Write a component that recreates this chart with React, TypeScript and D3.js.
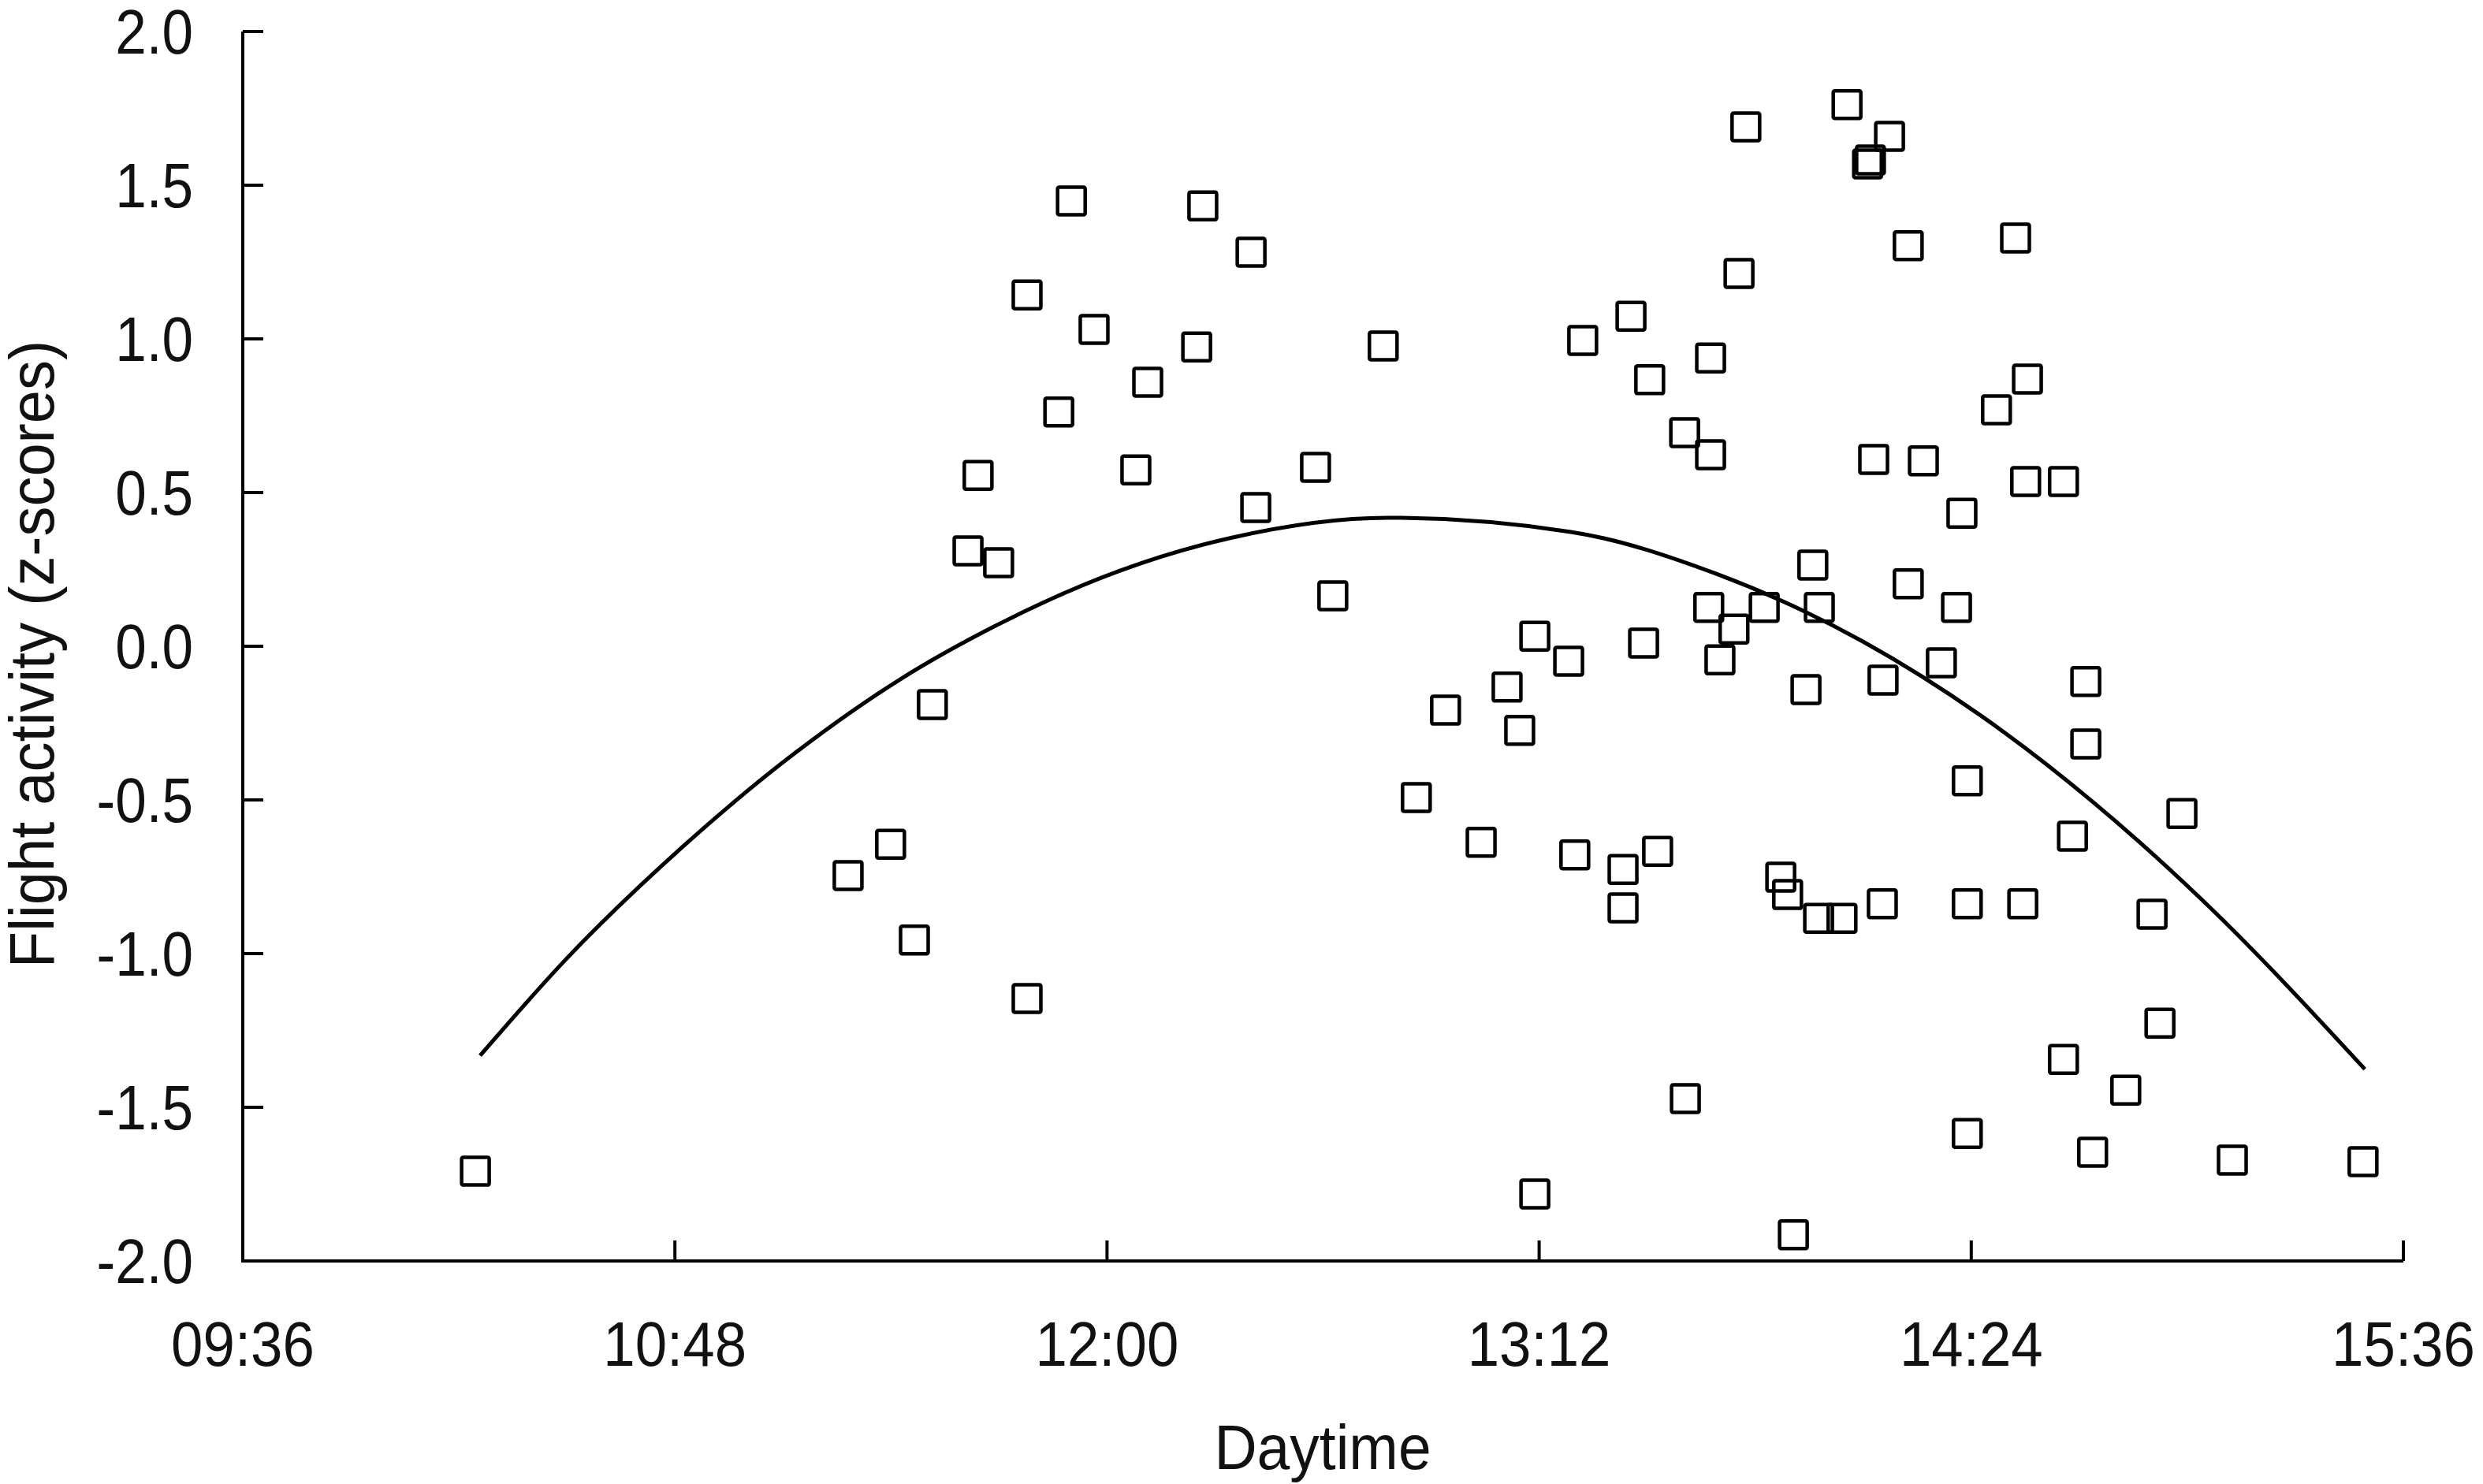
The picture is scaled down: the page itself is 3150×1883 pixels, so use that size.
import React from "react";
import * as d3 from "d3";

// scatter: time of day (decimal hours) and flight activity (z-scores)
const hours = [
  10.246, 11.281, 11.399, 11.465, 11.515, 11.614, 11.642, 11.699, 11.778, 11.778,
  11.866, 11.901, 11.964, 12.08, 12.113, 12.249, 12.266, 12.4, 12.413, 12.579,
  12.627, 12.767, 12.859, 12.94, 13.039, 13.111, 13.146, 13.188, 13.188, 13.282,
  13.299, 13.321, 13.433, 13.433, 13.455, 13.49, 13.507, 13.529, 13.604, 13.606,
  13.676, 13.676, 13.671, 13.702, 13.741, 13.755, 13.774, 13.825, 13.871, 13.89,
  13.906, 13.941, 13.96, 13.978, 13.976, 14.041, 14.055, 14.112, 14.12, 14.129,
  14.155, 14.153, 14.173, 14.225, 14.225, 14.267, 14.317, 14.359, 14.374, 14.389,
  14.389, 14.389, 14.47, 14.523, 14.543, 14.556, 14.551, 14.656, 14.656, 14.681,
  14.718, 14.718, 14.737, 14.829, 14.902, 14.924, 14.985, 15.125, 15.488,
];
const scores = [
  -1.708, -0.746, -0.644, -0.956, -0.19, 0.31, 0.556, 0.272, 1.143, -1.146,
  0.762, 1.449, 1.031, 0.574, 0.859, 0.974, 1.433, 1.282, 0.451, 0.582,
  0.164, 0.977, -0.492, -0.208, -0.638, -0.133, -0.274, 0.033, -1.782, -0.049,
  -0.679, 0.995, -0.726, -0.851, 1.074, 0.01, 0.867, -0.667, 0.695, -1.472,
  0.938, 0.623, 0.126, -0.044, 0.056, 1.213, 1.69, 0.126, -0.751, -0.808,
  -1.915, -0.141, 0.264, 0.126, -0.885, -0.885, 1.762, 1.569, 1.582, 0.608,
  -0.11, -0.838, 1.659, 1.303, 0.203, 0.603, -0.054, 0.126, 0.433, -0.438,
  -0.838, -1.585, 0.769, 1.328, -0.838, 0.869, 0.536, 0.536, -1.344, -0.618,
  -0.115, -0.318, -1.646, -1.444, -0.872, -1.226, -0.544, -1.672, -1.677,
];

// fitted curve
const curveHours = [
  10.259, 10.493, 10.821, 11.134, 11.421, 11.686, 12.036, 12.349,
  12.778, 13.288, 13.691, 14.098, 14.427, 14.865, 15.055, 15.493,
];
const curveScores = [
  -1.332, -1.024, -0.653, -0.347, -0.111, 0.064, 0.246, 0.354,
  0.418, 0.372, 0.236, 0.016, -0.226, -0.635, -0.841, -1.376,
];

const xTickLabels = ["09:36", "10:48", "12:00", "13:12", "14:24", "15:36"];
const yTickValues = [-2, -1.5, -1, -0.5, 0, 0.5, 1, 1.5, 2];

const W = 3150;
const H = 1883;
const font = "'Liberation Sans', Arial, sans-serif";

const toHours = (s: string) => {
  const [h, m] = s.split(":").map(Number);
  return h + m / 60;
};

export default function App() {
  const x = d3.scaleLinear().domain([9.6, 15.6]).range([308, 3049]);
  const y = d3.scaleLinear().domain([-2, 2]).range([1600, 40]);
  const fmt = (v: number) => v.toFixed(1);
  const tick = 26;
  const box = 35;

  const line = d3
    .line<number>()
    .x((_, i) => x(curveHours[i]))
    .y((d) => y(d))
    .curve(d3.curveMonotoneX);

  return (
    <svg
      width={W}
      height={H}
      viewBox={`0 0 ${W} ${H}`}
      style={{ position: "absolute", left: 0, top: 0, background: "white" }}
      fontFamily={font}
    >
      <rect width={W} height={H} fill="white" />

      {/* axes */}
      <path
        d={`M${x(9.6)},${y(2)}V${y(-2)}H${x(15.6)}`}
        fill="none"
        stroke="#000"
        strokeWidth={4}
      />
      {yTickValues.map((v) => (
        <g key={v}>
          <line x1={x(9.6)} x2={x(9.6) + tick} y1={y(v)} y2={y(v)} stroke="#000" strokeWidth={4} />
          <g transform={`translate(245,${y(v) + 28}) scale(0.9,1)`}>
            <text textAnchor="end" fontSize={79} fill="#111">
              {fmt(v)}
            </text>
          </g>
        </g>
      ))}
      {xTickLabels.map((t) => (
        <g key={t}>
          <line
            x1={x(toHours(t))}
            x2={x(toHours(t))}
            y1={y(-2)}
            y2={y(-2) - tick}
            stroke="#000"
            strokeWidth={4}
          />
          <g transform={`translate(${x(toHours(t))},1733) scale(0.92,1)`}>
            <text textAnchor="middle" fontSize={79} fill="#111">
              {t}
            </text>
          </g>
        </g>
      ))}

      {/* axis titles */}
      <g transform="translate(1678,1864) scale(0.95,1)">
        <text textAnchor="middle" fontSize={79} fill="#111">
          Daytime
        </text>
      </g>
      <g transform="translate(68,830) rotate(-90) scale(0.96,1)">
        <text textAnchor="middle" fontSize={79} fill="#111">
          Flight activity (z-scores)
        </text>
      </g>

      {/* fitted curve */}
      <path d={line(curveScores) ?? ""} fill="none" stroke="#000" strokeWidth={5} />

      {/* points */}
      {hours.map((h, i) => (
        <rect
          key={i}
          x={x(h) - box / 2}
          y={y(scores[i]) - box / 2}
          width={box}
          height={box}
          rx={2}
          fill="none"
          stroke="#000"
          strokeWidth={4.5}
        />
      ))}
    </svg>
  );
}
